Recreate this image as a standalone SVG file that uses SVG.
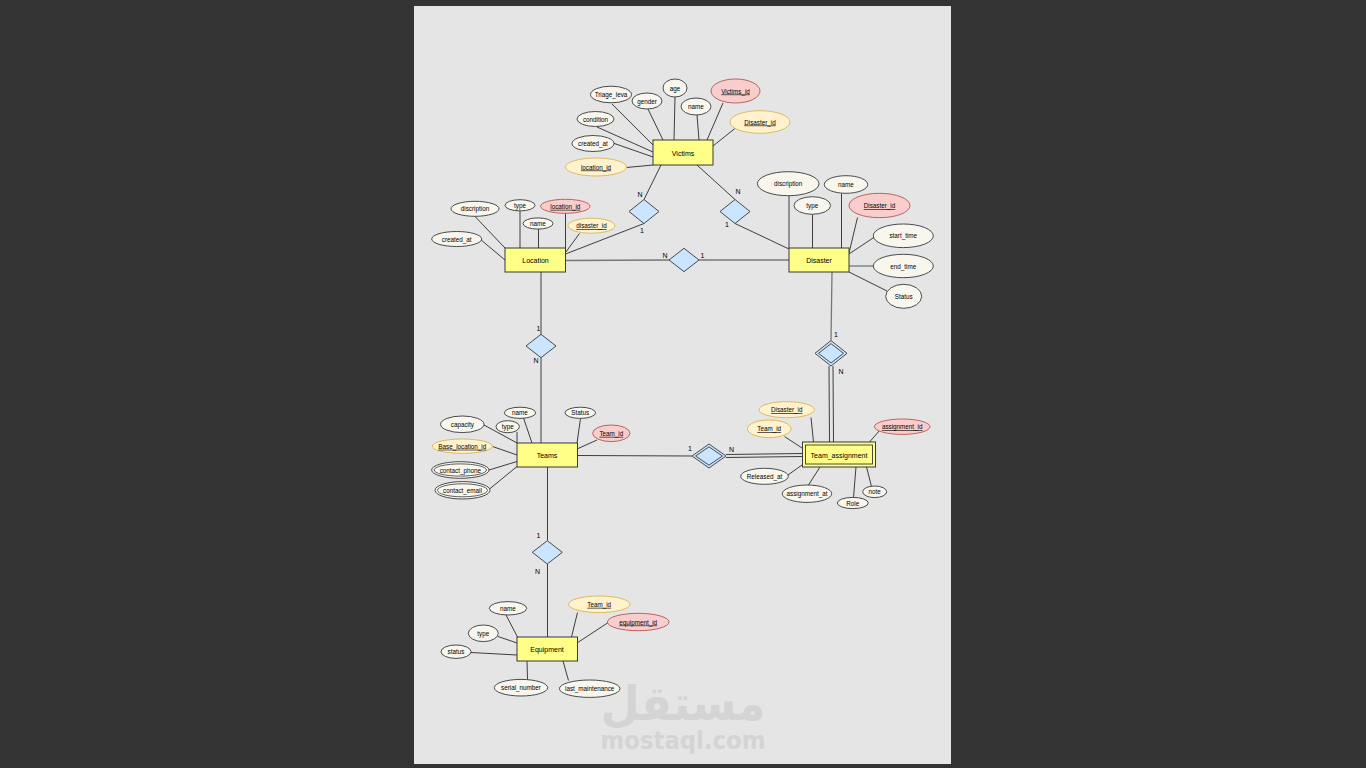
<svg xmlns="http://www.w3.org/2000/svg" width="1366" height="768" viewBox="0 0 1366 768">
<defs>
<style>
text{font-family:"Liberation Sans",Arial,sans-serif;fill:#000;text-anchor:middle;dominant-baseline:central}
.ent{fill:#ffff88;stroke:#36393d;stroke-width:1}
.att{fill:#f9f7ed;stroke:#36393d;stroke-width:0.9}
.pk{fill:#f8cecc;stroke:#b85450;stroke-width:0.9}
.fk{fill:#fff2cc;stroke:#d6b656;stroke-width:0.9}
.rel{fill:#cce5ff;stroke:#36393d;stroke-width:0.9}
.et{font-size:7px}
.at{font-size:6.3px}
.u{text-decoration:underline}
.card{font-size:7px}
#connectors line,#connectors polyline{stroke:#2a2a2a;stroke-width:0.9;fill:none}
#connectors .g{stroke:#777;stroke-width:1.3}
.wm{fill:#d4d4d4;font-family:"DejaVu Sans","Liberation Sans",sans-serif;font-weight:bold}
</style>
</defs>
<rect x="0" y="0" width="1366" height="768" fill="#333333"/>
<rect x="414" y="6" width="537" height="758" fill="#e5e5e5"/>
<g id="watermark">
<text class="wm" x="683" y="703" font-size="48" textLength="165" lengthAdjust="spacingAndGlyphs">مستقل</text>
<text class="wm" x="683" y="740" font-size="25" textLength="165" lengthAdjust="spacingAndGlyphs">mostaql.com</text>
</g>
<g id="connectors">
<!-- Victims attributes -->
<line x1="612" y1="104" x2="653" y2="145"/>
<line x1="648" y1="109" x2="663" y2="140"/>
<line x1="675" y1="97" x2="674" y2="140"/>
<line x1="697" y1="115" x2="699" y2="140"/>
<line x1="723" y1="103" x2="707" y2="140"/>
<line x1="738" y1="126" x2="713" y2="146"/>
<line x1="597" y1="127" x2="653" y2="152"/>
<line x1="613" y1="143" x2="653" y2="157"/>
<line x1="626.5" y1="167.5" x2="653" y2="165"/>
<!-- Victims relationships -->
<line x1="661" y1="165" x2="644" y2="199.5"/>
<line x1="644" y1="223.5" x2="565.5" y2="254"/>
<line x1="697" y1="165" x2="735" y2="199.5"/>
<line x1="735" y1="223.5" x2="789" y2="249"/>
<!-- Location attributes -->
<line x1="475" y1="216.5" x2="505" y2="248"/>
<line x1="520" y1="210.5" x2="520" y2="248"/>
<line x1="565.5" y1="213" x2="565.5" y2="248"/>
<line x1="538.5" y1="229" x2="538.5" y2="248"/>
<line x1="579.5" y1="233.5" x2="565.5" y2="252.5"/>
<line x1="480.5" y1="239.5" x2="505" y2="260"/>
<!-- Location - Disaster -->
<line class="g" x1="565" y1="260.5" x2="669" y2="260"/>
<line class="g" x1="699" y1="260" x2="789" y2="260"/>
<!-- Disaster attributes -->
<line x1="789" y1="195.5" x2="789" y2="248"/>
<line x1="812.5" y1="214.5" x2="812.5" y2="248"/>
<line x1="841.5" y1="193.5" x2="841.5" y2="248"/>
<line x1="857.5" y1="217.5" x2="849" y2="253"/>
<line x1="876" y1="236" x2="849" y2="254"/>
<line class="g" x1="873.5" y1="266" x2="849" y2="266"/>
<line x1="887" y1="291" x2="849" y2="272"/>
<!-- Location - Teams -->
<line x1="541" y1="272" x2="541" y2="334.5"/>
<line x1="541" y1="357.5" x2="541" y2="443"/>
<!-- Disaster - Team_assignment -->
<line class="g" x1="832" y1="272" x2="831" y2="340.5"/>
<line x1="829" y1="366" x2="829.5" y2="442"/>
<line x1="833" y1="366" x2="833.5" y2="442"/>
<!-- Teams attributes -->
<line x1="484" y1="425" x2="517" y2="443"/>
<line x1="523.5" y1="418" x2="532" y2="443"/>
<line x1="517" y1="432" x2="517" y2="443"/>
<line x1="580.5" y1="418.5" x2="577" y2="443"/>
<line x1="597" y1="440" x2="577" y2="449"/>
<line x1="492.5" y1="446.5" x2="517" y2="455"/>
<line x1="489" y1="470" x2="517" y2="461.5"/>
<line x1="489.5" y1="489" x2="517" y2="466.5"/>
<!-- Teams - Team_assignment -->
<line x1="577" y1="455.5" x2="692" y2="456"/>
<line x1="726" y1="454.5" x2="802" y2="453.5"/>
<line x1="726" y1="457.5" x2="802" y2="456.5"/>
<!-- Team_assignment attributes -->
<line x1="811" y1="417.5" x2="813.5" y2="442"/>
<line x1="784.5" y1="436.5" x2="802" y2="448"/>
<line x1="880" y1="430" x2="869.5" y2="442"/>
<line x1="788" y1="475" x2="802" y2="465"/>
<line x1="808.5" y1="485" x2="820" y2="467"/>
<line x1="853.5" y1="497.5" x2="856" y2="467"/>
<line x1="871.5" y1="486.5" x2="866.5" y2="467"/>
<!-- Teams - Equipment -->
<line x1="547.5" y1="467" x2="547.5" y2="540.5"/>
<line x1="547.5" y1="564" x2="547.5" y2="637"/>
<!-- Equipment attributes -->
<line x1="506" y1="615" x2="517.5" y2="637"/>
<line x1="498" y1="636.5" x2="517" y2="643"/>
<line x1="471" y1="652.5" x2="517" y2="655"/>
<line x1="577.5" y1="612.5" x2="571.5" y2="637"/>
<line x1="609" y1="622" x2="577" y2="643"/>
<line x1="527" y1="661" x2="527.5" y2="679.5"/>
<line x1="563" y1="661" x2="568.5" y2="680.5"/>
</g>
<g id="cardinalities">
<text class="card" x="640" y="194.5">N</text>
<text class="card" x="642" y="230.5">1</text>
<text class="card" x="738" y="191">N</text>
<text class="card" x="727" y="224">1</text>
<text class="card" x="665" y="255">N</text>
<text class="card" x="702.5" y="255">1</text>
<text class="card" x="538.5" y="328.5">1</text>
<text class="card" x="536" y="360">N</text>
<text class="card" x="836" y="334.5">1</text>
<text class="card" x="841" y="371.5">N</text>
<text class="card" x="690" y="448.5">1</text>
<text class="card" x="731.5" y="449">N</text>
<text class="card" x="538.5" y="535">1</text>
<text class="card" x="537.5" y="571">N</text>
</g>
<g id="Victims">
<rect class="ent" x="653" y="140" width="60" height="25"/>
<text class="et" x="683" y="153">Victims</text>
</g>
<g id="Location">
<rect class="ent" x="505" y="248" width="60.5" height="24"/>
<text class="et" x="535.5" y="260.5">Location</text>
</g>
<g id="Disaster">
<rect class="ent" x="789" y="248" width="60" height="24"/>
<text class="et" x="819" y="260.5">Disaster</text>
</g>
<g id="Teams">
<rect class="ent" x="517" y="443" width="60.5" height="24"/>
<text class="et" x="547" y="455.5">Teams</text>
</g>
<g id="Equipment">
<rect class="ent" x="517" y="637" width="60.5" height="24"/>
<text class="et" x="547" y="649.5">Equipment</text>
</g>
<g id="Team_assignment">
<rect class="ent" x="802.5" y="442" width="73" height="25"/>
<rect x="805.5" y="445" width="67" height="19" fill="none" stroke="#36393d" stroke-width="0.9"/>
<text class="et" x="839" y="455">Team_assignment</text>
</g>
<g id="rel_victims_location"><polygon class="rel" points="629,211.5 644,199.5 659,211.5 644,223.5"/></g>
<g id="rel_victims_disaster"><polygon class="rel" points="720,211.5 735,199.5 750,211.5 735,223.5"/></g>
<g id="rel_location_disaster"><polygon class="rel" points="669,260 684,248.3 699,260 684,271.7"/></g>
<g id="rel_location_teams"><polygon class="rel" points="526,346 541,334.3 556,346 541,357.7"/></g>
<g id="rel_disaster_assignment">
<polygon class="rel" points="815,353.3 831,340.6 847,353.3 831,366"/>
<polygon points="818.5,353.3 831,343.6 843.5,353.3 831,363" fill="none" stroke="#36393d" stroke-width="0.9"/>
</g>
<g id="rel_teams_assignment">
<polygon class="rel" points="692,456 709,444 726,456 709,468"/>
<polygon points="695.6,456 709,446.8 722.4,456 709,465.2" fill="none" stroke="#36393d" stroke-width="0.9"/>
</g>
<g id="rel_teams_equipment"><polygon class="rel" points="532.3,552.3 547.3,540.7 562.3,552.3 547.3,564"/></g>
<!-- Victims attributes -->
<g id="v_triage"><ellipse class="att" cx="611" cy="94.5" rx="20.5" ry="8.3"/><text class="at" x="611" y="94.5">Triage_leva</text></g>
<g id="v_gender"><ellipse class="att" cx="647" cy="101" rx="15" ry="8"/><text class="at" x="647" y="101">gender</text></g>
<g id="v_age"><ellipse class="att" cx="675" cy="88" rx="12" ry="9"/><text class="at" x="675" y="88">age</text></g>
<g id="v_name"><ellipse class="att" cx="696" cy="106.5" rx="15" ry="8.5"/><text class="at" x="696" y="106.5">name</text></g>
<g id="v_id"><ellipse class="pk" cx="735.5" cy="91" rx="24.5" ry="12"/><text class="at u" x="735.5" y="91">Victims_id</text></g>
<g id="v_disaster_id"><ellipse class="fk" cx="760" cy="122" rx="30" ry="11.3"/><text class="at u" x="760" y="122">Disaster_id</text></g>
<g id="v_condition"><ellipse class="att" cx="595.5" cy="119" rx="18.5" ry="7.5"/><text class="at" x="595.5" y="119">condition</text></g>
<g id="v_created"><ellipse class="att" cx="593" cy="143.5" rx="21" ry="8"/><text class="at" x="593" y="143.5">created_at</text></g>
<g id="v_location_id"><ellipse class="fk" cx="596" cy="167" rx="30.5" ry="9"/><text class="at u" x="596" y="167">location_id</text></g>
<!-- Location attributes -->
<g id="l_disc"><ellipse class="att" cx="475" cy="208.8" rx="24" ry="7.5"/><text class="at" x="475" y="208.8">discription</text></g>
<g id="l_type"><ellipse class="att" cx="520" cy="205.3" rx="15" ry="5.6"/><text class="at" x="520" y="205.3">type</text></g>
<g id="l_id"><ellipse class="pk" cx="565.3" cy="206.3" rx="24.7" ry="7"/><text class="at u" x="565.3" y="206.3">location_id</text></g>
<g id="l_name"><ellipse class="att" cx="538" cy="223.5" rx="15" ry="5.6"/><text class="at" x="538" y="223.5">name</text></g>
<g id="l_disaster_id"><ellipse class="fk" cx="591.5" cy="225.7" rx="23.5" ry="7.5"/><text class="at u" x="591.5" y="225.7">disaster_id</text></g>
<g id="l_created"><ellipse class="att" cx="456.7" cy="239" rx="25" ry="7.5"/><text class="at" x="456.7" y="239">created_at</text></g>
<!-- Disaster attributes -->
<g id="d_disc"><ellipse class="att" cx="788.2" cy="183.7" rx="30.8" ry="12"/><text class="at" x="788.2" y="183.7">discription</text></g>
<g id="d_name"><ellipse class="att" cx="846" cy="184.5" rx="21.7" ry="8.8"/><text class="at" x="846" y="184.5">name</text></g>
<g id="d_type"><ellipse class="att" cx="812.3" cy="205.5" rx="18.3" ry="8.8"/><text class="at" x="812.3" y="205.5">type</text></g>
<g id="d_id"><ellipse class="pk" cx="879.5" cy="205.5" rx="30.5" ry="12.2"/><text class="at u" x="879.5" y="205.5">Disaster_id</text></g>
<g id="d_start"><ellipse class="att" cx="903.3" cy="235.8" rx="30" ry="11.8"/><text class="at" x="903.3" y="235.8">start_time</text></g>
<g id="d_end"><ellipse class="att" cx="903.3" cy="266" rx="30" ry="11.7"/><text class="at" x="903.3" y="266">end_time</text></g>
<g id="d_status"><ellipse class="att" cx="903.7" cy="296.3" rx="18" ry="12"/><text class="at" x="903.7" y="296.3">Status</text></g>
<!-- Teams attributes -->
<g id="t_capacity"><ellipse class="att" cx="462.3" cy="424.3" rx="21.7" ry="8.3" stroke="#888"/><text class="at" x="462.3" y="424.3">capacity</text></g>
<g id="t_name"><ellipse class="att" cx="520" cy="412.8" rx="15.7" ry="5.6"/><text class="at" x="520" y="412.8">name</text></g>
<g id="t_type"><ellipse class="att" cx="507.7" cy="426.7" rx="11.7" ry="6"/><text class="at" x="507.7" y="426.7">type</text></g>
<g id="t_status"><ellipse class="att" cx="580.3" cy="412.8" rx="15.3" ry="5.6"/><text class="at" x="580.3" y="412.8">Status</text></g>
<g id="t_id"><ellipse class="pk" cx="611.3" cy="433.3" rx="18.7" ry="8.3"/><text class="at u" x="611.3" y="433.3">Team_id</text></g>
<g id="t_base"><ellipse class="fk" cx="462.3" cy="446.2" rx="30" ry="7.2"/><text class="at u" x="462.3" y="446.2">Base_location_id</text></g>
<g id="t_phone"><ellipse class="att" cx="460.3" cy="470" rx="28.7" ry="8.3"/><ellipse cx="460.3" cy="470" rx="26.2" ry="6.1" fill="none" stroke="#36393d" stroke-width="0.8"/><text class="at" x="460.3" y="470">contact_phone</text></g>
<g id="t_email"><ellipse class="att" cx="462.5" cy="490.3" rx="27.5" ry="8.7"/><ellipse cx="462.5" cy="490.3" rx="25" ry="6.5" fill="none" stroke="#36393d" stroke-width="0.8"/><text class="at" x="462.5" y="490.3">contact_email</text></g>
<!-- Team_assignment attributes -->
<g id="ta_disaster_id"><ellipse class="fk" cx="786.7" cy="409.7" rx="27.7" ry="8"/><text class="at u" x="786.7" y="409.7">Disaster_id</text></g>
<g id="ta_team_id"><ellipse class="fk" cx="769.2" cy="428.8" rx="21.8" ry="8.8"/><text class="at u" x="769.2" y="428.8">Team_id</text></g>
<g id="ta_id"><ellipse class="pk" cx="902.2" cy="426.7" rx="27.8" ry="7.7"/><text class="at u" x="902.2" y="426.7">assignment_id</text></g>
<g id="ta_released"><ellipse class="att" cx="764.5" cy="476.3" rx="23.8" ry="8"/><text class="at" x="764.5" y="476.3">Released_at</text></g>
<g id="ta_assigned"><ellipse class="att" cx="807" cy="493.7" rx="24.7" ry="8.7"/><text class="at" x="807" y="493.7">assignment_at</text></g>
<g id="ta_role"><ellipse class="att" cx="852.8" cy="503" rx="15.5" ry="5.6"/><text class="at" x="852.8" y="503">Role</text></g>
<g id="ta_note"><ellipse class="att" cx="874.7" cy="491.8" rx="12" ry="5.8"/><text class="at" x="874.7" y="491.8">note</text></g>
<!-- Equipment attributes -->
<g id="e_name"><ellipse class="att" cx="508" cy="608.3" rx="18.7" ry="6.7"/><text class="at" x="508" y="608.3">name</text></g>
<g id="e_type"><ellipse class="att" cx="483.3" cy="633.3" rx="15" ry="8.3"/><text class="at" x="483.3" y="633.3">type</text></g>
<g id="e_status"><ellipse class="att" cx="456" cy="651.7" rx="15" ry="6.7"/><text class="at" x="456" y="651.7">status</text></g>
<g id="e_team_id"><ellipse class="fk" cx="599.2" cy="604.3" rx="30.8" ry="8.3"/><text class="at u" x="599.2" y="604.3">Team_id</text></g>
<g id="e_id"><ellipse class="pk" cx="638.2" cy="622" rx="30.8" ry="8.7"/><text class="at u" x="638.2" y="622">equipment_id</text></g>
<g id="e_serial"><ellipse class="att" cx="521" cy="687.7" rx="26.7" ry="8.3"/><text class="at" x="521" y="687.7">serial_number</text></g>
<g id="e_last"><ellipse class="att" cx="589.7" cy="688.7" rx="30.3" ry="8.7" stroke-width="1.3"/><text class="at" x="589.7" y="688.7">last_maintenance</text></g>
</svg>
